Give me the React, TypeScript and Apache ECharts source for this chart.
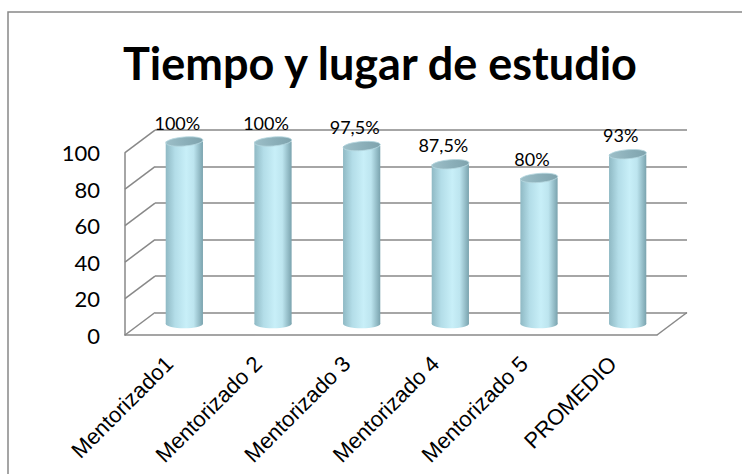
import React, { useEffect, useRef } from "react";
import * as echarts from "echarts";

const chartTitle = "Tiempo y lugar de estudio";
const categories = ["Mentorizado1", "Mentorizado 2", "Mentorizado 3", "Mentorizado 4", "Mentorizado 5", "PROMEDIO"];
const values = [100, 100, 97.5, 87.5, 80, 93];
const valueLabels = ["100%", "100%", "97,5%", "87,5%", "80%", "93%"];
const yTicks = [0, 20, 40, 60, 80, 100];

const DEPTH_X = 30;
const DEPTH_Y = 22.5;
const GRID_W = 532;
const GRID_H = 182.3;
const LINE = "#888888";

export default function App() {
  const ref = useRef<HTMLDivElement>(null);
  useEffect(() => {
    if (!ref.current) return;
    const chart = echarts.init(ref.current, undefined, { renderer: "svg" });
    const option: any = {
      animation: false,
      backgroundColor: "#ffffff",
      graphic: [
        {
          type: "rect",
          silent: true,
          shape: { x: 8, y: 12, width: 760, height: 480 },
          style: { fill: "none", stroke: LINE, lineWidth: 1.5 },
        },
        {
          type: "text",
          x: 380,
          y: 63,
          style: {
            text: chartTitle,
            align: "center",
            verticalAlign: "middle",
            font: "bold 45px Lato",
            fill: "#000",
          },
        },
      ],
      grid: [
        { left: 125, top: 335 - GRID_H, width: GRID_W, height: GRID_H },
        { left: 140, top: 323.8 - GRID_H, width: GRID_W, height: GRID_H },
        { left: 155, top: 312.5 - GRID_H, width: GRID_W, height: GRID_H },
      ],
      xAxis: [
        {
          gridIndex: 0,
          type: "category",
          data: categories,
          axisLine: { show: true, lineStyle: { color: LINE, width: 1.5 } },
          axisTick: { show: false },
          axisLabel: {
            rotate: 45,
            margin: 25,
            interval: 0,
            color: "#000",
            fontFamily: "'Liberation Sans', Arial, sans-serif",
            fontSize: 22,
          },
        },
        { gridIndex: 1, type: "category", data: categories, show: false },
        { gridIndex: 2, type: "category", data: categories, show: false },
      ],
      yAxis: [
        {
          gridIndex: 0,
          type: "value",
          min: 0,
          max: 100,
          interval: 20,
          axisLine: { show: true, lineStyle: { color: LINE, width: 1.5 } },
          axisTick: { show: false },
          splitLine: { show: false },
          axisLabel: { margin: 25, color: "#000", fontFamily: "Lato", fontSize: 22 },
        },
        { gridIndex: 1, type: "value", min: 0, max: 100, interval: 20, show: false },
        {
          gridIndex: 2,
          type: "value",
          min: 0,
          max: 100,
          interval: 20,
          axisLine: { show: false },
          axisTick: { show: false },
          axisLabel: { show: false },
          splitLine: { show: true, lineStyle: { color: LINE, width: 1.5 } },
        },
      ],
      series: [
        {
          type: "custom",
          xAxisIndex: 2,
          yAxisIndex: 2,
          silent: true,
          z: 1,
          data: yTicks.map((v) => [0, v]),
          renderItem: (params: any, api: any) => {
            const v = api.value(1);
            const cs = params.coordSys;
            const y = api.coord([0, v])[1];
            const children: any[] = [
              {
                type: "line",
                shape: { x1: cs.x, y1: y, x2: cs.x - DEPTH_X, y2: y + DEPTH_Y },
                style: { stroke: LINE, lineWidth: 1.5 },
              },
            ];
            if (v === 0) {
              children.push({
                type: "line",
                shape: {
                  x1: cs.x + cs.width,
                  y1: y,
                  x2: cs.x + cs.width - DEPTH_X,
                  y2: y + DEPTH_Y,
                },
                style: { stroke: LINE, lineWidth: 1.5 },
              });
            }
            return { type: "group", children };
          },
        },
        {
          type: "custom",
          xAxisIndex: 1,
          yAxisIndex: 1,
          z: 5,
          data: values.map((v, i) => [i, v]),
          renderItem: (params: any, api: any) => {
            const i = api.value(0);
            const v = api.value(1);
            const top = api.coord([i, v]);
            const bottom = api.coord([i, 0]);
            const band = api.size([1, 0])[0];
            const w = band * 0.42;
            const rx = w / 2;
            const ry = 4.5;
            const cx = top[0];
            const bodyFill = {
              type: "linear",
              x: 0,
              y: 0,
              x2: 1,
              y2: 0,
              colorStops: [
                { offset: 0, color: "#8fb9c4" },
                { offset: 0.25, color: "#b3dde8" },
                { offset: 0.55, color: "#c8eff8" },
                { offset: 0.75, color: "#bde5ef" },
                { offset: 1, color: "#7aa3ae" },
              ],
            };
            const topFill = {
              type: "linear",
              x: 0,
              y: 0,
              x2: 1,
              y2: 0,
              colorStops: [
                { offset: 0, color: "#9dbfc8" },
                { offset: 0.5, color: "#8cb0ba" },
                { offset: 1, color: "#7fa3ad" },
              ],
            };
            return {
              type: "group",
              children: [
                {
                  type: "ellipse",
                  shape: { cx, cy: bottom[1], rx, ry },
                  style: { fill: bodyFill },
                },
                {
                  type: "rect",
                  shape: { x: cx - rx, y: top[1], width: w, height: bottom[1] - top[1] },
                  style: { fill: bodyFill },
                },
                {
                  type: "ellipse",
                  shape: { cx, cy: top[1], rx, ry },
                  originX: cx,
                  originY: top[1],
                  rotation: 0.08,
                  style: { fill: topFill, stroke: "#b5d7e0", lineWidth: 0.8 },
                },
                {
                  type: "text",
                  x: cx - 7,
                  y: top[1] - 10,
                  style: {
                    text: valueLabels[params.dataIndex],
                    align: "center",
                    verticalAlign: "bottom",
                    font: "18px Lato",
                    fill: "#000",
                  },
                },
              ],
            };
          },
        },
      ],
    };
    chart.setOption(option);
    return () => chart.dispose();
  }, []);
  return (
    <div
      ref={ref}
      style={{ position: "fixed", left: 0, top: 0, width: 742, height: 474 }}
    />
  );
}
